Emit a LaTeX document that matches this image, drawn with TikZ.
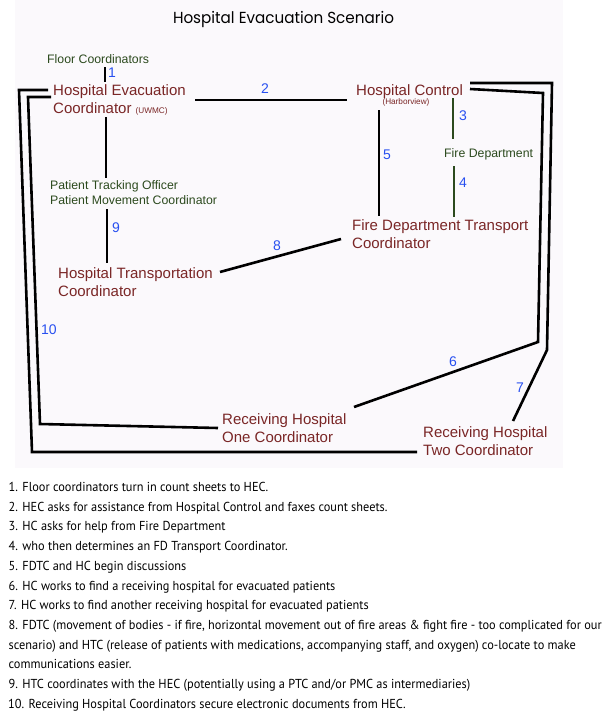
\documentclass[tikz,border=0pt]{standalone}
\usepackage{fontspec}
\usepackage{graphicx}
\setmainfont{Liberation Sans}
\newfontfamily\listfont{PT Sans}
\newfontfamily\titlefont{Poppins}
\definecolor{maroonc}{RGB}{122,38,38}
\definecolor{greenc}{RGB}{44,74,30}
\definecolor{bluec}{RGB}{40,80,240}
\definecolor{bgc}{RGB}{251,249,252}
\newsavebox\fitbox
\newcommand\fitline[2]{\sbox\fitbox{#2}\pgfmathsetmacro\fitscale{#1/\wd\fitbox}\scalebox{\fitscale}[1]{\usebox\fitbox}}
\newcommand\lfont{\listfont\fontsize{13}{15}\selectfont}
\newcommand\lline[1]{\calcscale\scalebox{\listscale}[1]{#1}}
\newcommand\calcscale{%
  \sbox\fitbox{\lfont 8. FDTC (movement of bodies - if fire, horizontal movement out of fire areas \& fight fire - too complicated for our}%
  \pgfmathsetmacro\scA{591.5/\wd\fitbox}%
  \sbox\fitbox{\lfont scenario) and HTC (release of patients with medications, accompanying staff, and oxygen) co-locate to make}%
  \pgfmathsetmacro\scB{568.5/\wd\fitbox}%
  \pgfmathsetmacro\listscale{(\scA+\scB)/2}}
\tikzset{
  lbl/.style={anchor=north west, inner sep=0pt, align=left, text=maroonc, font=\fontsize{15}{17.5}\selectfont},
  glbl/.style={anchor=north west, inner sep=0pt, align=left, text=greenc, font=\fontsize{12.3}{15}\selectfont},
  small/.style={inner sep=0pt, text=maroonc, font=\fontsize{8.2}{9}\selectfont},
  num/.style={inner sep=0pt, text=bluec, font=\fontsize{14}{16}\selectfont},
  conn/.style={line width=2.6pt, black, line join=miter},
  gconn/.style={line width=2.2pt, greenc},
  listline/.style={anchor=base west, inner sep=0pt, font=\lfont},
}
\begin{document}
\begin{tikzpicture}[x=1pt,y=-1pt]
\fill[white] (0,0) rectangle (604,715);
\useasboundingbox (0,0) rectangle (604,715);
\fill[bgc] (15,0) rectangle (563,468);

% title
\node[inner sep=0pt, font=\titlefont\fontsize{16}{18}\selectfont] (title) at (283.5,19) {\fitline{221}{Hospital Evacuation Scenario}};

% labels
\node[glbl] (floor) at (47,54.6) {Floor Coordinators};
\node[lbl] (hec) at (53,84.6) {Hospital Evacuation\\Coordinator {\fontsize{8.2}{9}\selectfont(UWMC)}};
\node[lbl] (hc) at (356,84.6) {Hospital Control};
\node[small] (hcsub) at (406,102.5) {(Harborview)};
\node[glbl] (fd) at (444,148.6) {Fire Department};
\node[lbl] (fdtc) at (352,219.6) {Fire Department Transport\\Coordinator};
\node[glbl] (ptc) at (50,180.6) {Patient Tracking Officer\\Patient Movement Coordinator};
\node[lbl] (htc) at (58,267.6) {Hospital Transportation\\Coordinator};
\node[lbl] (rh1) at (222,413.6) {Receiving Hospital\\One Coordinator};
\node[lbl] (rh2) at (423,426.6) {Receiving Hospital\\Two Coordinator};

% connector end points
\coordinate (floorS) at (105,67);   \coordinate (hecN) at (105,82);
\coordinate (hecE) at (195,100);    \coordinate (hcW) at (347,100);
\coordinate (hecS) at (106,117);    \coordinate (ptcN) at (106,178);
\coordinate (ptcS) at (107,209);    \coordinate (htcN) at (107,263);
\coordinate (htcE) at (220,272);    \coordinate (fdtcW) at (341,239);
\coordinate (hcS) at (379,110);     \coordinate (fdtcN) at (379,216);
\coordinate (hcSE) at (453,98);     \coordinate (fdN) at (453,139);
\coordinate (fdS) at (454,166);     \coordinate (fdtcNE) at (454,217);
\coordinate (hcE1) at (470,89);     \coordinate (b6a) at (543,93);
\coordinate (b6b) at (538,342);     \coordinate (rh1E) at (354,407);
\coordinate (hcE2) at (470,83);     \coordinate (b7a) at (552,83);
\coordinate (b7b) at (547,350);     \coordinate (rh2N) at (513,421);
\coordinate (hecW1) at (48,90);     \coordinate (b10a) at (19,90);
\coordinate (b10b) at (32,452);     \coordinate (rh2W) at (417,452);
\coordinate (hecW2) at (51,97);     \coordinate (b10c) at (28,97);
\coordinate (b10d) at (40,424);     \coordinate (rh1W) at (218,428);

% connectors
\draw[conn] (floorS) -- (hecN);
\draw[conn] (hecE) -- (hcW);
\draw[conn] (hecS) -- (ptcN);
\draw[conn] (ptcS) -- (htcN);
\draw[conn] (htcE) -- (fdtcW);
\draw[conn] (hcS) -- (fdtcN);
\draw[gconn] (hcSE) -- (fdN);
\draw[gconn] (fdS) -- (fdtcNE);
\draw[conn] (hcE1) -- (b6a) -- (b6b) -- (rh1E);
\draw[conn] (hcE2) -- (b7a) -- (b7b) -- (rh2N);
\draw[conn] (hecW1) -- (b10a) -- (b10b) -- (rh2W);
\draw[conn] (hecW2) -- (b10c) -- (b10d) -- (rh1W);

% numbers
\node[num] (n1) at (112,73) {1};
\node[num] (n2) at (265,89) {2};
\node[num] (n3) at (463,116) {3};
\node[num] (n4) at (463,183) {4};
\node[num] (n5) at (387,155) {5};
\node[num] (n6) at (453,362) {6};
\node[num] (n7) at (520,388) {7};
\node[num] (n8) at (277,246) {8};
\node[num] (n9) at (116,228) {9};
\node[num] (n10) at (49,330) {10};

% list
\node[listline] (l1) at (8.5,491.5) {\lline{1. Floor coordinators turn in count sheets to HEC.}};
\node[listline] (l2) at (8.5,511.2) {\lline{2. HEC asks for assistance from Hospital Control and faxes count sheets.}};
\node[listline] (l3) at (8.5,530.9) {\lline{3. HC asks for help from Fire Department}};
\node[listline] (l4) at (8.5,550.6) {\lline{4. who then determines an FD Transport Coordinator.}};
\node[listline] (l5) at (8.5,570.3) {\lline{5. FDTC and HC begin discussions}};
\node[listline] (l6) at (8.5,590.0) {\lline{6. HC works to find a receiving hospital for evacuated patients}};
\node[listline] (l7) at (8.5,609.7) {\lline{7. HC works to find another receiving hospital for evacuated patients}};
\node[listline] (l8a) at (8.5,629.4) {\lline{8. FDTC (movement of bodies - if fire, horizontal movement out of fire areas \& fight fire - too complicated for our}};
\node[listline] (l8b) at (8.5,649.1) {\lline{scenario) and HTC (release of patients with medications, accompanying staff, and oxygen) co-locate to make}};
\node[listline] (l8c) at (8.5,668.8) {\lline{communications easier.}};
\node[listline] (l9) at (8.5,688.5) {\lline{9. HTC coordinates with the HEC (potentially using a PTC and/or PMC as intermediaries)}};
\node[listline] (l10) at (8,708.2) {\lline{10. Receiving Hospital Coordinators secure electronic documents from HEC.}};
\end{tikzpicture}
\end{document}
